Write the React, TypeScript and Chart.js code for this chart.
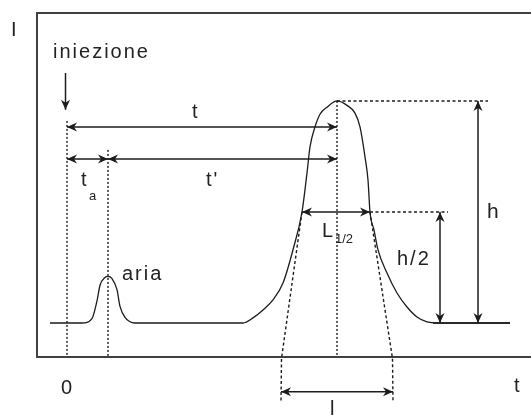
import { useEffect, useRef } from "react";
import { Chart, registerables } from "chart.js";

Chart.register(...registerables);

// Chromatogram trace: detector signal vs. time (time 0 = injection)
const timeValues = [
  -1.7, 1.5, 2.5, 3.0, 3.3, 3.8, 4.1, 4.5, 5.0, 5.3, 5.8, 6.8,
  17.6, 18.6, 19.6, 20.6, 21.6, 22.6, 23.5, 24.0, 24.3, 24.8, 25.3, 26.0,
  27.0, 28.0, 28.8, 29.3, 29.8, 30.1, 30.3, 30.7, 31.1, 32.0, 33.0, 34.0,
  35.0, 36.0, 37.0, 44.3,
];
const signalValues = [
  0, 0, 0.2, 1.0, 1.7, 2.05, 2.1, 2.0, 1.5, 0.75, 0.25, 0,
  0, 0.23, 0.59, 1.04, 1.8, 3.3, 5.0, 6.76, 7.93, 8.83, 9.4, 9.72,
  10, 9.8, 9.45, 8.83, 7.48, 6.44, 5.0, 4.19, 3.29, 2.25, 1.35, 0.72,
  0.27, 0.05, 0, 0,
];

// Characteristic quantities of the chromatogram
const injectionTime = 0;
const airTime = 4.1;
const retentionTime = 27;
const peakHeight = 10;
const halfWidthEnds = [23.5, 30.3];
const baseWidthEnds = [21.4, 32.6];

// Text labels
const labelInjection = "iniezione";
const labelAir = "aria";
const labelSignal = "I";
const labelTime = "t";
const labelZero = "0";

const INK = "#1c1c1c";
const FONT = '"Liberation Sans", Arial, sans-serif';

export default function App() {
  const ref = useRef<HTMLCanvasElement>(null);

  useEffect(() => {
    const canvas = ref.current;
    if (!canvas) return;

    const annotations = {
      id: "chromAnnotations",
      afterDraw(chart: any) {
        const ctx: CanvasRenderingContext2D = chart.ctx;
        const xs = chart.scales.x;
        const ys = chart.scales.y;
        const px = (v: number) => xs.getPixelForValue(v);
        const py = (v: number) => ys.getPixelForValue(v);
        const area = chart.chartArea;

        // row / column positions of the dimension lines (data units)
        const tRow = 8.83;
        const tPrimeRow = 7.39;
        const lRow = -3.1;
        const hCol = 41.1;
        const halfCol = 37.3;
        const dropBottom = -3.5;

        ctx.save();

        // frame
        ctx.strokeStyle = "#404040";
        ctx.lineWidth = 2;
        ctx.setLineDash([]);
        ctx.beginPath();
        ctx.moveTo(chart.width + 2, area.top);
        ctx.lineTo(area.left, area.top);
        ctx.lineTo(area.left, area.bottom);
        ctx.lineTo(chart.width + 2, area.bottom);
        ctx.stroke();

        const line = (pts: number[][], dash: number[], w = 1.4) => {
          ctx.save();
          ctx.strokeStyle = INK;
          ctx.lineWidth = w;
          ctx.setLineDash(dash);
          ctx.beginPath();
          pts.forEach(([x, y], i) => (i ? ctx.lineTo(x, y) : ctx.moveTo(x, y)));
          ctx.stroke();
          ctx.restore();
        };

        const head = (tx: number, ty: number, fx: number, fy: number) => {
          const dx = tx - fx;
          const dy = ty - fy;
          const len = Math.hypot(dx, dy) || 1;
          const ux = dx / len;
          const uy = dy / len;
          const nx = -uy;
          const ny = ux;
          const L = 10;
          const W = 4.5;
          const notch = 3;
          ctx.save();
          ctx.fillStyle = INK;
          ctx.beginPath();
          ctx.moveTo(tx, ty);
          ctx.lineTo(tx - ux * L + nx * W, ty - uy * L + ny * W);
          ctx.lineTo(tx - ux * (L - notch), ty - uy * (L - notch));
          ctx.lineTo(tx - ux * L - nx * W, ty - uy * L - ny * W);
          ctx.closePath();
          ctx.fill();
          ctx.restore();
        };

        const arrow = (x1: number, y1: number, x2: number, y2: number, both = true) => {
          line([[x1, y1], [x2, y2]], [], 1.5);
          head(x2, y2, x1, y1);
          if (both) head(x1, y1, x2, y2);
        };

        const dot = [2, 2];
        const dash = [3, 2.5];

        // vertical reference lines
        line([[px(injectionTime), py(tRow) - 6], [px(injectionTime), area.bottom]], dot);
        line([[px(airTime), py(tPrimeRow) - 9], [px(airTime), area.bottom]], dot);
        line([[px(retentionTime), py(peakHeight)], [px(retentionTime), area.bottom]], dot);

        // horizontal reference lines at peak and half height
        line([[px(retentionTime), py(peakHeight)], [px(hCol + 1), py(peakHeight)]], dash);
        line([[px(halfWidthEnds[1]), py(peakHeight / 2)], [px(halfCol + 0.8), py(peakHeight / 2)]], dash);

        // tangents defining the base width
        line([
          [px(halfWidthEnds[0]), py(peakHeight / 2)],
          [px(baseWidthEnds[0] + 0.05), py(-1.6)],
          [px(baseWidthEnds[0]), py(dropBottom)],
        ], dash);
        line([
          [px(halfWidthEnds[1]), py(peakHeight / 2)],
          [px(baseWidthEnds[1] - 0.05), py(-1.6)],
          [px(baseWidthEnds[1]), py(dropBottom)],
        ], dash);

        // injection arrow
        arrow(px(injectionTime) - 1.5, py(11.26), px(injectionTime) - 1.5, py(9.6), false);

        // time arrows
        arrow(px(injectionTime), py(tRow), px(retentionTime), py(tRow));
        arrow(px(injectionTime), py(tPrimeRow), px(airTime), py(tPrimeRow));
        arrow(px(airTime), py(tPrimeRow), px(retentionTime), py(tPrimeRow));

        // widths
        arrow(px(halfWidthEnds[0]), py(peakHeight / 2), px(halfWidthEnds[1]), py(peakHeight / 2));
        arrow(px(baseWidthEnds[0]), py(lRow), px(baseWidthEnds[1]), py(lRow));

        // heights
        arrow(px(hCol), py(0), px(hCol), py(peakHeight));
        line([[px(hCol - 4.5), py(0)], [px(44.3), py(0)]], [], 1.5);
        arrow(px(halfCol), py(0), px(halfCol), py(peakHeight / 2));

        // text
        const text = (s: string, x: number, y: number, size = 20, align: CanvasTextAlign = "left", spacing = 2) => {
          ctx.save();
          ctx.fillStyle = "#222";
          ctx.font = `${size}px ${FONT}`;
          (ctx as any).letterSpacing = `${spacing}px`;
          ctx.textAlign = align;
          ctx.textBaseline = "alphabetic";
          ctx.fillText(s, x, y);
          ctx.restore();
        };

        text(labelSignal, 11, 36);
        text(labelInjection, 53, 58);
        text(labelTime, 192, 118);
        text(labelTime + "'", 206, 186);
        text(labelTime, 81, 186);
        text("a", 89, 200, 13, "left", 0);
        text(labelAir, 122, 280);
        text("L", 322, 237);
        text("1/2", 335, 243, 13, "left", 0);
        text("h", 487, 218, 21);
        text("h/2", 397, 265);
        text(labelZero, 61, 394);
        text(labelTime, 514, 392);
        text("l", 330, 415);

        ctx.restore();
      },
    };

    const chart = new Chart(canvas, {
      type: "line",
      data: {
        datasets: [
          {
            data: timeValues.map((t, i) => ({ x: t, y: signalValues[i] })),
            borderColor: INK,
            borderWidth: 1.3,
            pointRadius: 0,
            cubicInterpolationMode: "monotone",
            fill: false,
          },
        ],
      },
      options: {
        animation: false,
        responsive: false,
        devicePixelRatio: 1,
        events: [],
        layout: { padding: { left: 37, top: 13, right: 0, bottom: 59 } },
        plugins: { legend: { display: false }, tooltip: { enabled: false } },
        scales: {
          x: { type: "linear", min: -3, max: 46.4, display: false },
          y: { type: "linear", min: -1.53, max: 13.96, display: false },
        },
      },
      plugins: [annotations],
    });

    return () => chart.destroy();
  }, []);

  return (
    <div style={{ position: "fixed", left: 0, top: 0, width: 531, height: 416, background: "#fff" }}>
      <canvas ref={ref} width={531} height={416} style={{ display: "block" }} />
    </div>
  );
}
